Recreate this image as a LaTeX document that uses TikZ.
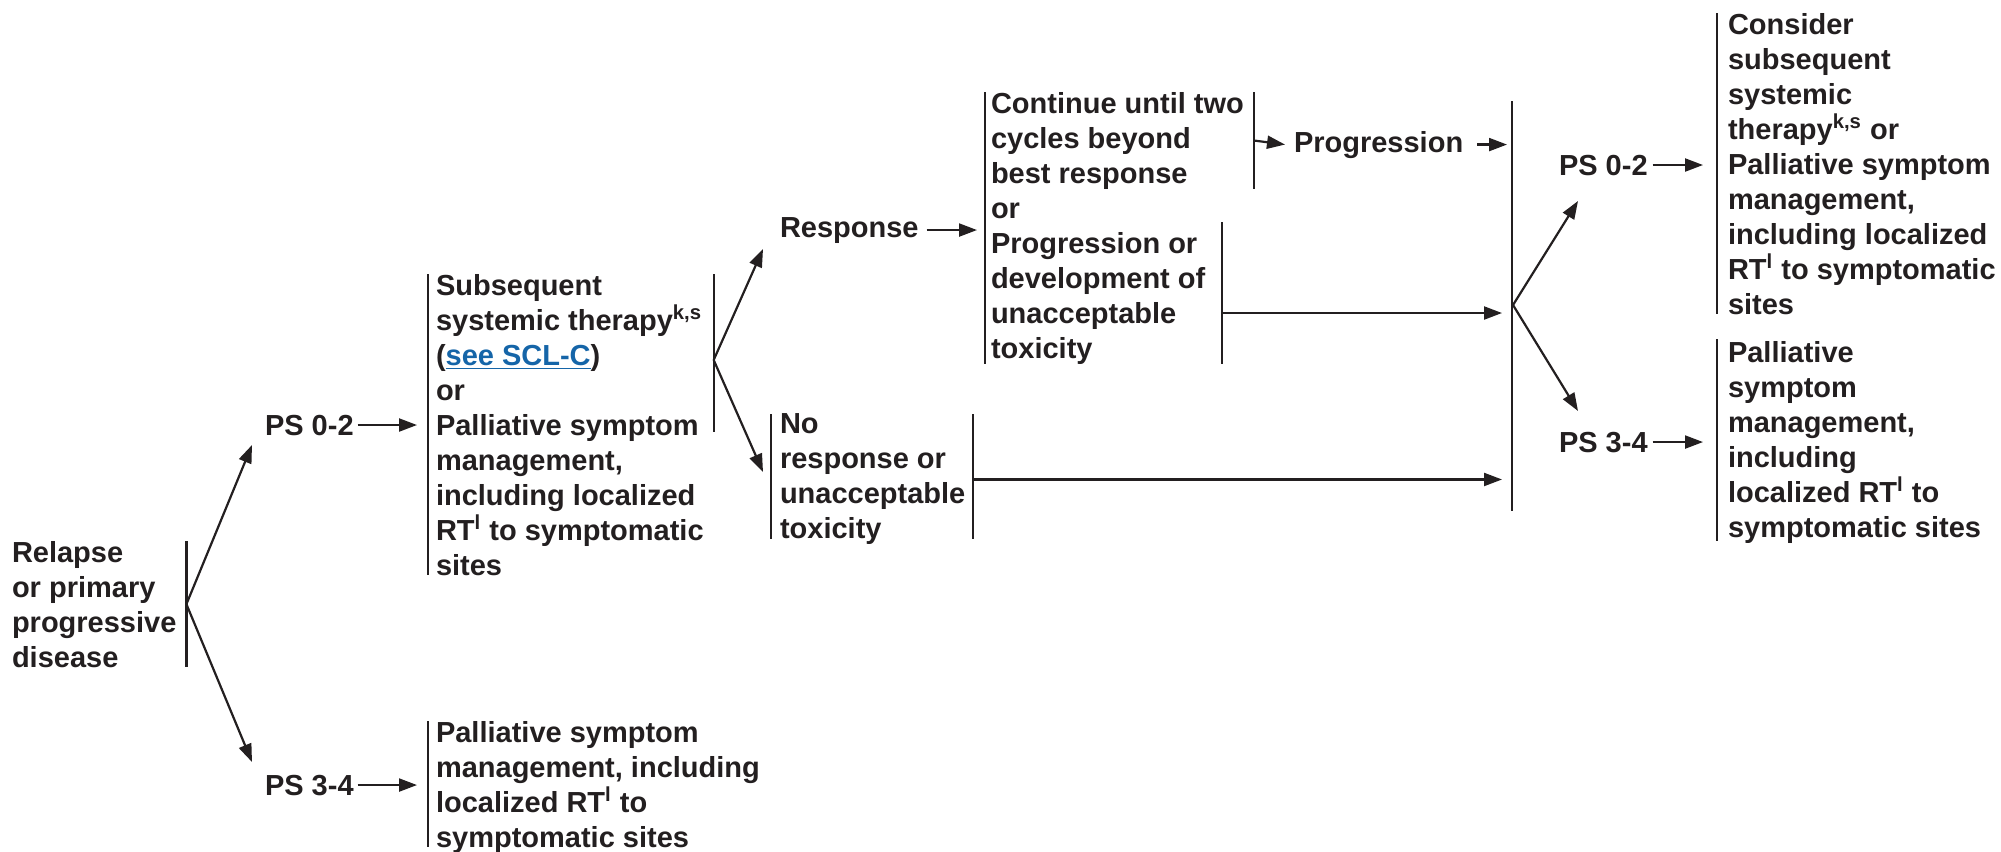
\documentclass[tikz,border=0pt]{standalone}
\usepackage{fontspec}
\setmainfont{Liberation Sans}
\usepackage{xcolor}
\usepackage{tikz}
\usetikzlibrary{arrows.meta, calc}
\definecolor{nink}{HTML}{231F20}
\definecolor{nlink}{HTML}{1565A8}

\begin{document}
\begin{tikzpicture}[x=0.5pt, y=-0.5pt,
  txt/.style={inner sep=0pt, outer sep=0pt, align=left, anchor=north west, text=nink,
    font=\fontsize{14.5}{17.5}\selectfont\bfseries},
  lbl/.style={txt, anchor=base west},
  bar/.style={draw=nink, line width=1.1pt},
  arr/.style={draw=nink, line width=1.1pt, -{Triangle[length=9pt, width=6.5pt]}}]
\useasboundingbox (0,0) rectangle (2001,851);

\node[txt] (relapse) at (12,541) {Relapse\\or primary\\progressive\\disease};
\node[lbl] (ps02a) at (265,435) {PS 0-2};
\node[lbl] (ps34a) at (265,795) {PS 3-4};
\node[txt] (subseq) at (436,274) {Subsequent\\systemic therapy\textsuperscript{k,s}\\(\textcolor{nlink}{\underline{see SCL-C}})\\or\\Palliative symptom\\management,\\including localized\\RT\textsuperscript{l} to symptomatic\\sites};
\node[txt] (pall34a) at (436,721) {Palliative symptom\\management, including\\localized RT\textsuperscript{l} to\\symptomatic sites};
\node[lbl] (response) at (780,237) {Response};
\node[txt] (noresp) at (780,414) {No\\response or\\unacceptable\\toxicity};
\node[txt] (cont) at (991,92) {Continue until two\\cycles beyond\\best response};
\node[lbl] (ortxt) at (991,218) {or};
\node[txt] (progtox) at (991,232) {Progression or\\development of\\unacceptable\\toxicity};
\node[lbl] (progression) at (1294,152) {Progression};
\node[lbl] (ps02b) at (1559,175) {PS 0-2};
\node[lbl] (ps34b) at (1559,452) {PS 3-4};
\node[txt] (consider) at (1728,13) {Consider\\subsequent\\systemic\\therapy\textsuperscript{k,s} or\\Palliative symptom\\management,\\including localized\\RT\textsuperscript{l} to symptomatic\\sites};
\node[txt] (pall34b) at (1728,341) {Palliative\\symptom\\management,\\including\\localized RT\textsuperscript{l} to\\symptomatic sites};

\coordinate (bigtop) at (1512,101);
\coordinate (bigbot) at (1512,511);
\coordinate (bigfork) at (1513,305);
\coordinate (relfork) at ([xshift=5pt]relapse.east);
\coordinate (progout) at ([shift={(17,15)}]progtox.east);
\path ([xshift=5pt]subseq.north east) ++(0,86) coordinate (subfork);

\draw[bar] ([xshift=5pt]relapse.north east) -- ([xshift=5pt]relapse.base east);
\draw[bar] ([xshift=-4pt]subseq.north west) -- ([xshift=-4pt]subseq.base west);
\draw[bar] ([xshift=5pt]subseq.north east) -- ++(0,158);
\draw[bar] ([xshift=-4pt]pall34a.north west) -- ([xshift=-4pt]pall34a.base west);
\draw[bar] ([xshift=-4.5pt]noresp.north west) -- ([xshift=-4.5pt]noresp.base west);
\draw[bar] ([xshift=4pt]noresp.north east) -- ([xshift=4pt]noresp.base east);
\draw[bar] ([xshift=-3pt]cont.north west) -- ([xshift=-3pt]progtox.south west);
\draw[bar] ([xshift=5pt]cont.north east) -- ([xshift=5pt]cont.south east);
\draw[bar] ([shift={(17,-10)}]progtox.north east) -- ([xshift=8.5pt]progtox.south east);
\draw[bar] (bigtop) -- (bigbot);
\draw[bar] ([xshift=-5.5pt]consider.north west) -- ([xshift=-5.5pt]consider.base west);
\draw[bar] ([shift={(-11,-2)}]pall34b.north west) -- ([shift={(-11,4)}]pall34b.base west);

\draw[arr] (relfork) -- ([shift={(-13,10)}]ps02a.base west);
\draw[arr] (relfork) -- ([shift={(-13,-33)}]ps34a.base west);
\draw[arr] ([xshift=2pt]ps02a.east) -- ([xshift=-9.5pt]subseq.west |- ps02a.east);
\draw[arr] ([xshift=2pt]ps34a.east) -- ([xshift=-9.5pt]pall34a.west |- ps34a.east);
\draw[arr] (subfork) -- ([shift={(-17,12)}]response.base west);
\draw[arr] (subfork) -- ([shift={(-17,58)}]noresp.north west);
\draw[arr] ([xshift=4pt]response.east) -- ([xshift=-7pt]cont.west |- response.east);
\draw[arr] ([xshift=5pt]cont.east) -- ([xshift=-4.5pt]progression.west);
\draw[arr] ([xshift=7pt]progression.east) -- ([xshift=-2.5pt]bigtop |- progression.east);
\draw[arr] (progout) -- ([xshift=-5pt]bigtop |- progout);
\draw[arr] ([xshift=4pt]noresp.east) -- ([xshift=-5pt]bigtop |- noresp.east);
\draw[arr] (bigfork) -- ([shift={(19,26)}]ps02b.base west);
\draw[arr] (bigfork) -- ([shift={(19,-41)}]ps34b.base west);
\draw[arr] ([xshift=2.5pt]ps02b.east) -- ([xshift=-12.5pt]consider.west |- ps02b.east);
\draw[arr] ([xshift=2.5pt]ps34b.east) -- ([xshift=-12.5pt]pall34b.west |- ps34b.east);
\end{tikzpicture}
\end{document}
